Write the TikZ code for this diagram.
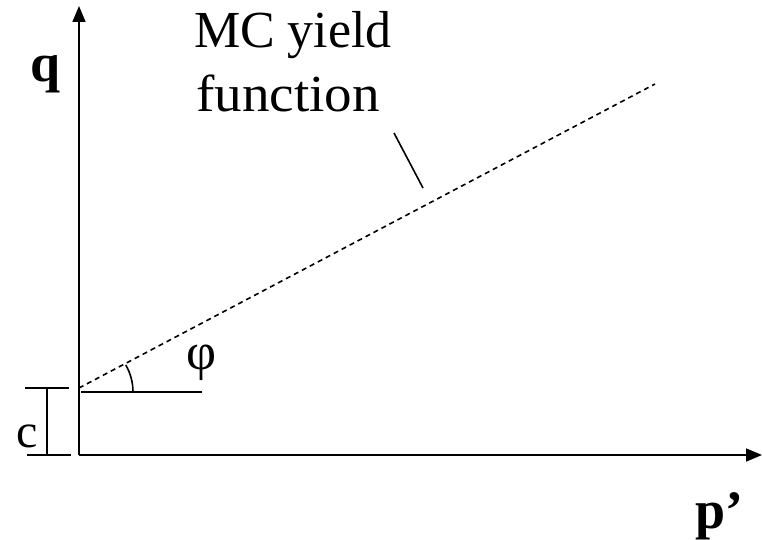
\documentclass[tikz,border=0pt]{standalone}
\usepackage{fontspec}
\setmainfont{Liberation Serif}
\usetikzlibrary{arrows.meta}
\begin{document}
\begin{tikzpicture}[x=1pt,y=-1pt,
  ln/.style={line width=1.6pt},
  axis/.style={ln,-{Triangle[length=16pt,width=13pt]}},
  lbl/.style={inner sep=0pt,font=\fontsize{48}{54}\selectfont},
  bl/.style={inner sep=0pt,font=\fontsize{54}{60}\selectfont\bfseries},
  big/.style={inner sep=0pt,anchor=base,font=\fontsize{52}{56}\selectfont}]
\useasboundingbox (0,0) rectangle (762,540);
\coordinate (O) at (79,455);
\coordinate (Ytop) at (79,6);
\coordinate (Xend) at (762,455);
\coordinate (C) at (79,388);
\coordinate (D) at (655,84);
\coordinate (H) at (202,392);
\draw[axis] (O) -- (Ytop);
\draw[axis] (O) -- (Xend);
\draw[ln,dash pattern=on 5pt off 4pt] (C) -- (D);
\draw[ln] (81,392) -- (H);
\draw[ln] (133,392) arc[start angle=0,end angle=-30,radius=54];
% c dimension
\coordinate (ct1) at (25,388); \coordinate (ct2) at (69,388);
\coordinate (cb1) at (27,455); \coordinate (cb2) at (71,455);
\draw[ln] (ct1) -- (ct2);
\draw[ln] (cb1) -- (cb2);
\draw[ln] (47,388) -- (47,455);
\node[lbl] (c) at (27,436) {c};
\node[lbl,font=\fontsize{52}{56}\selectfont] (phi) at (202,363) {φ};
\node[bl] (q) at (46,74) {q};
\node[bl] (p) at (719,516) {p’};
\node[big] (mc1) at (293,48) {MC yield};
\node[big,xscale=1.06] (mc2) at (288,112) {function};
\coordinate (l1) at (394,133);
\coordinate (l2) at (423,188);
\draw[ln] (l1) -- (l2);
\end{tikzpicture}
\end{document}
